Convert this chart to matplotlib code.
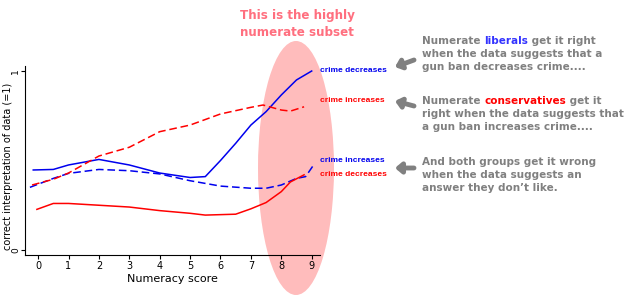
import matplotlib
matplotlib.use("Agg")
import matplotlib.pyplot as plt
from matplotlib.patches import Ellipse
import numpy as np

# numeracy score positions and estimated curves
lib_dec_x = [-0.16, 0.5, 1, 2, 3, 4, 5, 5.5, 6, 6.5, 7, 7.5, 8, 8.5, 9]
lib_dec_y = [0.447, 0.45, 0.475, 0.506, 0.475, 0.43, 0.405, 0.41, 0.50, 0.596, 0.698, 0.773, 0.866, 0.95, 1.0]

lib_inc_x = [-0.27, 0.5, 1, 2, 3, 4, 5, 6, 7, 7.5, 8, 8.5, 8.8, 9.1]
lib_inc_y = [0.35, 0.40, 0.428, 0.45, 0.443, 0.425, 0.387, 0.357, 0.345, 0.345, 0.363, 0.40, 0.41, 0.484]

con_inc_x = [-0.2, 0.5, 1, 2, 3, 4, 5, 6, 7, 7.4, 8, 8.3, 8.75]
con_inc_y = [0.363, 0.395, 0.43, 0.525, 0.574, 0.661, 0.698, 0.76, 0.797, 0.81, 0.782, 0.776, 0.80]

con_dec_x = [-0.04, 0.5, 1, 2, 3, 4, 5, 5.5, 6.5, 7, 7.5, 8, 8.3, 8.75]
con_dec_y = [0.227, 0.26, 0.26, 0.25, 0.24, 0.22, 0.205, 0.195, 0.20, 0.23, 0.265, 0.326, 0.38, 0.42]

xticks = list(range(10))

fig = plt.figure(figsize=(6.26, 3.0), dpi=100)
ax = fig.add_axes([0.040, 0.15, 0.471, 0.63])
ax.set_facecolor("none")

# highlight ellipse (placed in inches on the figure)
ell = Ellipse((2.96, 1.32), 0.76, 2.54, transform=fig.dpi_scale_trans,
              facecolor="#ffbcbc", edgecolor="none", zorder=0, clip_on=False)
ax.add_patch(ell)

ax.plot(lib_dec_x, lib_dec_y, color="#0000ee", lw=1.1, zorder=3)
ax.plot(lib_inc_x, lib_inc_y, color="#0000ee", lw=1.1, ls=(0, (5, 2.5)), zorder=3)
ax.plot(con_inc_x, con_inc_y, color="#ff0000", lw=1.1, ls=(0, (5, 2.5)), zorder=3)
ax.plot(con_dec_x, con_dec_y, color="#ff0000", lw=1.1, zorder=3)

ax.set_xlim(-0.43, 9.27)
ax.set_ylim(-0.028, 1.028)
ax.set_xticks(xticks)
ax.set_yticks([0, 1])
ax.tick_params(labelsize=7, length=3, width=0.8, pad=1.5)
ax.tick_params(axis="y", labelrotation=90, labelsize=6.5, pad=0.5)
for lbl in ax.get_yticklabels():
    lbl.set_va("center")
for s in ["top", "right"]:
    ax.spines[s].set_visible(False)
ax.set_xlabel("Numeracy score", fontsize=8, labelpad=2)
ax.set_ylabel("correct interpretation of data (=1)", fontsize=7, va="center")
ax.yaxis.set_label_coords(-0.058, 0.47)

# line labels
lab = dict(fontsize=6, fontweight="bold", family=["Liberation Sans", "DejaVu Sans"],
           va="center")
fig.text(320/626, 1-70/300, "crime decreases", color="#0000ee", **lab)
fig.text(320/626, 1-101/300, "crime increases", color="#ff0000", **lab)
fig.text(320/626, 1-160/300, "crime increases", color="#0000ee", **lab)
fig.text(320/626, 1-175/300, "crime decreases", color="#ff0000", **lab)

# title over ellipse
fig.text(297/626, 1-15/300, "This is the highly", color="#ff6f7f", fontsize=8.6,
         fontweight="bold", ha="center", va="center")
fig.text(297/626, 1-32/300, "numerate subset", color="#ff6f7f", fontsize=8.6,
         fontweight="bold", ha="center", va="center")

# right-hand notes
gray = "#808080"
note = dict(fontsize=7.5, fontweight="bold", color=gray, va="center")
blocks = [
    (41, [("Numerate ", gray), ("liberals", "#3333ff"), (" get it right", gray)],
     ["when the data suggests that a", "gun ban decreases crime...."]),
    (101, [("Numerate ", gray), ("conservatives", "#ff0000"), (" get it", gray)],
     ["right when the data suggests that", "a gun ban increases crime...."]),
    (162, [("And both groups get it wrong", gray)],
     ["when the data suggests an", "answer they don\u2019t like."]),
]
renderer = fig.canvas.get_renderer()
for y0, first, rest in blocks:
    x = 422
    for txt, col in first:
        t = fig.text(x/626, 1-y0/300, txt, **{**note, "color": col})
        bb = t.get_window_extent(renderer=renderer)
        x += bb.width
    for i, line in enumerate(rest):
        fig.text(422/626, 1-(y0+13*(i+1))/300, line, **note)

# arrows pointing to the labels
for (x1, y1, x2, y2) in [(414, 60, 395, 67), (414, 106, 395, 101), (414, 168, 395, 168)]:
    ax.annotate("", xy=(x2/626, 1-y2/300), xytext=(x1/626, 1-y1/300),
                xycoords="figure fraction", textcoords="figure fraction",
                arrowprops=dict(arrowstyle="-|>,head_length=0.35,head_width=0.3",
                                color=gray, lw=3.5, shrinkA=0, shrinkB=0),
                annotation_clip=False)

fig.savefig("out.png", dpi=100)
